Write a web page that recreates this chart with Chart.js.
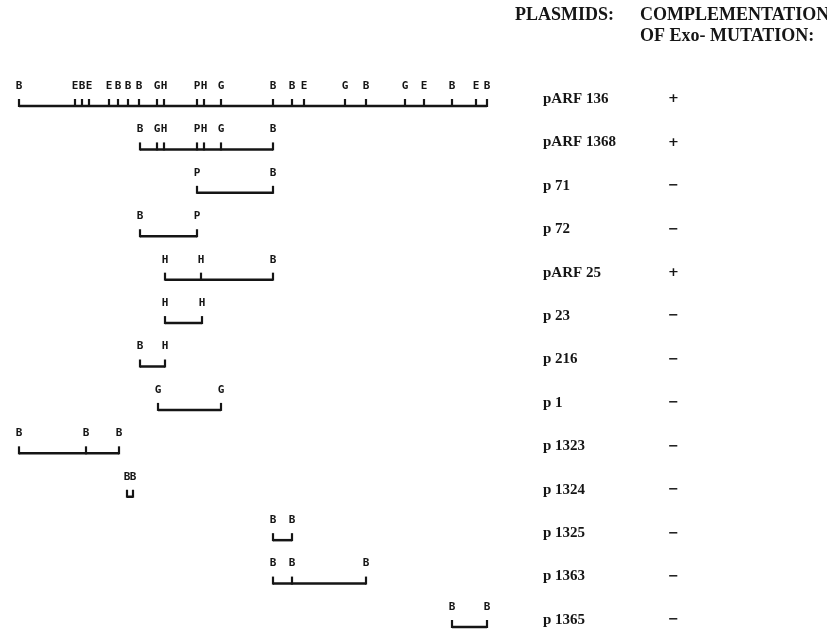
<!DOCTYPE html>
<html>
<head>
<meta charset="utf-8">
<script src="https://cdn.jsdelivr.net/npm/chart.js@4.4.1/dist/chart.umd.min.js"></script>
<style>
  html, body { margin: 0; padding: 0; background: #fff; }
  #wrap { position: relative; width: 827px; height: 632px; }
</style>
</head>
<body>
<div id="wrap"><canvas id="mapChart"></canvas></div>
<script>
// plasmid names and whether they complement the Exo- mutation
const plasmids = ['pARF 136', 'pARF 1368', 'p 71', 'p 72', 'pARF 25', 'p 23', 'p 216',
    'p 1', 'p 1323', 'p 1324', 'p 1325', 'p 1363', 'p 1365'];
const complementation = ['+', '+', '−', '−', '+', '−', '−', '−', '−', '−', '−', '−', '−'];

// restriction sites along the map (map units) and the enzyme at each site
const siteMaps = [
    [19, 75, 82, 89, 109, 118, 128, 139, 157, 164, 197, 204, 221, 273, 292, 304, 345, 366, 405, 424, 452, 476, 487],
    [140, 157, 164, 197, 204, 221, 273],
    [197, 273],
    [140, 197],
    [165, 201, 273],
    [165, 202],
    [140, 165],
    [158, 221],
    [19, 86, 119],
    [127, 133],
    [273, 292],
    [273, 292, 366],
    [452, 487]
];
const enzymeMaps = [
    ['B', 'E', 'B', 'E', 'E', 'B', 'B', 'B', 'G', 'H', 'P', 'H', 'G', 'B', 'B', 'E', 'G', 'B', 'G', 'E', 'B', 'E', 'B'],
    ['B', 'G', 'H', 'P', 'H', 'G', 'B'],
    ['P', 'B'],
    ['B', 'P'],
    ['H', 'H', 'B'],
    ['H', 'H'],
    ['B', 'H'],
    ['G', 'G'],
    ['B', 'B', 'B'],
    ['B', 'B'],
    ['B', 'B'],
    ['B', 'B', 'B'],
    ['B', 'B']
];

const ink = '#151515';

const datasets = plasmids.map((name, i) => ({
    label: name,
    data: siteMaps[i].map((x) => ({ x: x, y: name })),
    enzymes: enzymeMaps[i],
    borderColor: ink,
    borderWidth: 2.5,
    pointRadius: 0,
    tension: 0,
    clip: false
}));

// little upward ticks at each site with the enzyme letter above, plus the headings
const sitePlugin = {
    id: 'sites',
    afterDatasetsDraw(chart) {
        const ctx = chart.ctx;
        ctx.save();
        ctx.strokeStyle = ink;
        ctx.fillStyle = ink;
        ctx.lineWidth = 2.2;
        ctx.font = 'bold 11px "DejaVu Sans Mono"';
        ctx.textAlign = 'center';
        ctx.textBaseline = 'middle';
        chart.data.datasets.forEach((ds, i) => {
            const meta = chart.getDatasetMeta(i);
            meta.data.forEach((pt, j) => {
                ctx.beginPath();
                ctx.moveTo(pt.x, pt.y + 1);
                ctx.lineTo(pt.x, pt.y - 7);
                ctx.stroke();
                ctx.fillText(ds.enzymes[j], pt.x, pt.y - 20);
            });
        });

        ctx.textAlign = 'left';
        ctx.font = 'bold 18px "Liberation Serif"';
        ctx.fillText('PLASMIDS:', chart.scales.y.left + 15, 15);
        ctx.fillText('COMPLEMENTATION', chart.scales.y2.left - 18, 15);
        ctx.fillText('OF Exo- MUTATION:', chart.scales.y2.left - 18, 36);
        ctx.restore();
    }
};

// keep the label axes from padding the plot area
function fixWidth(w) {
    return function (scale) {
        scale.width = w;
        scale.paddingTop = 0;
        scale.paddingBottom = 0;
    };
}

const ctx = document.getElementById('mapChart').getContext('2d');

const mapChart = new Chart(ctx, {
    type: 'line',
    data: { datasets: datasets },
    options: {
        responsive: true,
        maintainAspectRatio: false,
        animation: false,
        layout: { padding: { top: 106, bottom: 5, left: 0, right: 0 } },
        plugins: {
            legend: { display: false },
            tooltip: { enabled: false }
        },
        scales: {
            x: { type: 'linear', min: 0, max: 500, display: false },
            y: {
                type: 'category',
                labels: plasmids,
                position: 'right',
                offset: false,
                grid: { display: false, drawTicks: false },
                border: { display: false },
                ticks: {
                    padding: 43,
                    crossAlign: 'near',
                    labelOffset: -7,
                    autoSkip: false,
                    color: ink,
                    font: { family: 'Liberation Serif', size: 15, weight: 'bold' }
                },
                afterFit: fixWidth(158)
            },
            y2: {
                type: 'category',
                labels: complementation,
                position: 'right',
                weight: 1,
                offset: false,
                grid: { display: false, drawTicks: false },
                border: { display: false },
                ticks: {
                    padding: 10,
                    crossAlign: 'center',
                    labelOffset: -7,
                    autoSkip: false,
                    color: ink,
                    font: { family: 'DejaVu Sans', size: 13, weight: 'bold' }
                },
                afterFit: fixWidth(169)
            }
        }
    },
    plugins: [sitePlugin]
});
</script>
</body>
</html>
